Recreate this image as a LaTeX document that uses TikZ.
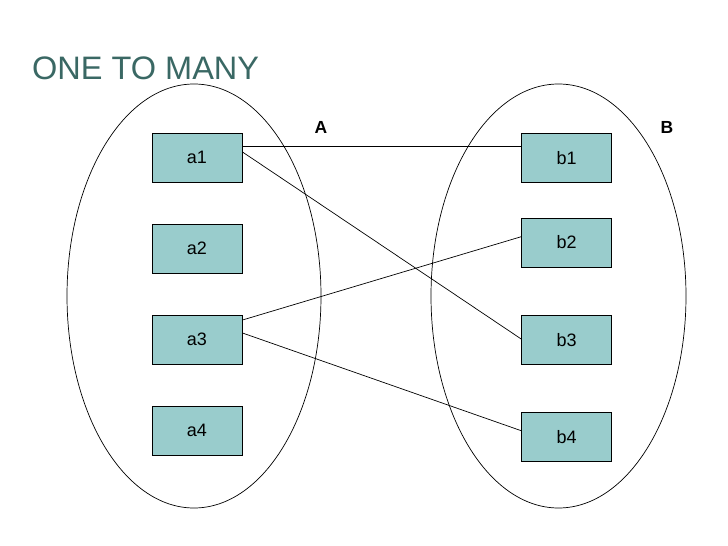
\documentclass[tikz,border=0pt]{standalone}
\usepackage{fontspec}
\setmainfont{Liberation Sans}
\definecolor{boxfill}{RGB}{153,204,204}
\definecolor{titlecol}{RGB}{58,104,100}
\begin{document}
\begin{tikzpicture}[x=1pt,y=-1pt,
  ent/.style={draw=black,line width=1pt,fill=boxfill,minimum width=90pt,minimum height=49pt,inner sep=0pt,font=\fontsize{18}{18}\selectfont},
  setel/.style={draw=black,line width=0.7pt},
  link/.style={draw=black,line width=0.7pt},
  lab/.style={font=\bfseries\fontsize{17.5}{17.5}\selectfont,inner sep=0pt}]
\useasboundingbox (0,0) rectangle (728,546);
\node[anchor=base west,inner sep=0pt,text=titlecol,font=\fontsize{32.5}{32.5}\selectfont] (title) at (32,79) {ONE TO MANY};
\draw[setel] (194,296) ellipse [x radius=127, y radius=212];
\draw[setel] (558.5,296) ellipse [x radius=127.5, y radius=212];
\node[lab,anchor=base] (A) at (321,133) {A};
\node[lab,anchor=base] (B) at (667,133) {B};
\node[ent] (a1) at (197,157.8) {a1};
\node[ent] (a2) at (197,248.7) {a2};
\node[ent] (a3) at (197,339.5) {a3};
\node[ent] (a4) at (197,430.8) {a4};
\node[ent] (b1) at (566.7,157.8) {b1};
\node[ent] (b2) at (566.7,242.5) {b2};
\node[ent] (b3) at (566.7,339.7) {b3};
\node[ent] (b4) at (566.7,436.7) {b4};
\draw[link] ([yshift=11.8pt]a1.east) -- ([yshift=11.8pt]b1.west);
\draw[link] ([yshift=5.8pt]a1.east) -- ([yshift=0.7pt]b3.west);
\draw[link] ([yshift=19.5pt]a3.east) -- ([yshift=5.8pt]b2.west);
\draw[link] ([yshift=6.5pt]a3.east) -- ([yshift=6pt]b4.west);
\end{tikzpicture}
\end{document}
